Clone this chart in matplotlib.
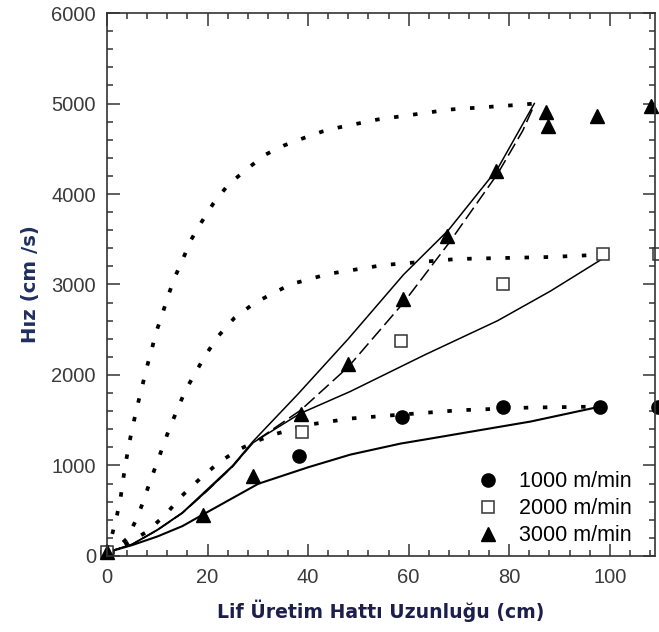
import matplotlib
matplotlib.use("Agg")
import matplotlib.pyplot as plt
from matplotlib.ticker import MultipleLocator

# measured points (Lif uretim hatti uzunlugu, cm -> hiz, cm/s)
x_1000 = [0, 38.2, 58.6, 78.7, 98.1, 109.7]
v_1000 = [40, 1110, 1540, 1650, 1650, 1650]
x_2000 = [0, 38.8, 58.4, 78.7, 98.6, 109.8]
v_2000 = [40, 1375, 2372, 3004, 3337, 3337]
x_3000 = [0, 19.0, 29.1, 38.6, 48.0, 58.8, 67.7, 77.3, 87.4, 87.7, 97.4, 108.2]
v_3000 = [40, 455, 887, 1574, 2117, 2838, 3537, 4257, 4905, 4756, 4867, 4978]

# model curves - dotted
x_dot1 = [0, 1, 2, 2.7, 3.2, 3.8, 4.4, 5.2, 6, 6.9, 7.8, 8.8, 9.7, 11, 12.2, 13.5,
          15.1, 16.7, 18.7, 21.1, 24.1, 27.9, 31.5, 35.1, 38.8, 42.8, 46, 53.8,
          68.3, 82.9, 85]
v_dot1 = [40, 233, 455, 643, 843, 1053, 1242, 1452, 1652, 1851, 2062, 2262, 2461,
          2672, 2882, 3082, 3282, 3492, 3681, 3891, 4102, 4279, 4435, 4534, 4612,
          4690, 4734, 4823, 4934, 4989, 5000]
x_dot2 = [0, 2, 3.9, 5.8, 7.2, 8.4, 9.8, 11.1, 12.4, 14, 15.5, 17.5, 19.7, 22.1,
          25.3, 29.3, 33.1, 36.6, 40.4, 43.8, 55, 69.7, 88.2, 98.6]
v_dot2 = [40, 90, 188, 399, 599, 798, 1009, 1208, 1408, 1619, 1818, 2018, 2228,
          2428, 2628, 2794, 2905, 3004, 3060, 3115, 3215, 3282, 3304, 3330]
x_dot3 = [0, 4, 7.9, 11.6, 14.9, 18.5, 22.2, 25.8, 29.5, 33.1, 40, 48.4, 58, 70,
          84, 97, 100.6]
v_dot3 = [40, 140, 266, 455, 665, 854, 1031, 1164, 1264, 1341, 1450, 1519, 1560,
          1610, 1640, 1650, 1655]

# model curves - solid / dashed
x_sol3 = [0, 5, 10, 15, 20, 25, 29, 38, 48, 59, 67.9, 77.7, 85]
v_sol3 = [40, 130, 290, 480, 740, 1000, 1264, 1790, 2400, 3110, 3600, 4280, 5000]
x_dash3 = [0, 5, 10, 15, 20, 25, 29, 38.5, 48, 59, 67.9, 77.7, 82.7, 84.8]
v_dash3 = [40, 128, 285, 475, 725, 990, 1250, 1610, 2090, 2800, 3450, 4224, 4700, 4960]
x_sol2 = [0, 5, 10, 15, 20, 25, 29, 38.4, 48.4, 63.3, 77.7, 88.2, 99.6]
v_sol2 = [40, 128, 285, 475, 725, 990, 1250, 1574, 1818, 2225, 2600, 2927, 3320]
x_sol1 = [0, 5, 10, 15, 19, 30.1, 40, 48.4, 58.4, 64.3, 84.3, 98.2]
v_sol1 = [40, 120, 215, 330, 455, 798, 980, 1120, 1242, 1297, 1486, 1652]

plt.rcParams['font.family'] = ['Liberation Sans', 'DejaVu Sans']

fig = plt.figure(figsize=(6.59, 6.32), dpi=100)
ax = fig.add_axes([0.1624, 0.1203, 0.8315, 0.8591])

dot = dict(color='black', lw=2.7, dashes=(1.2, 3.9))
for xs, vs in [(x_dot1, v_dot1), (x_dot2, v_dot2), (x_dot3, v_dot3)]:
    ax.plot(xs, vs, **dot)

ax.plot(x_sol3, v_sol3, color='black', lw=1.1)
ax.plot(x_dash3, v_dash3, color='black', lw=1.1, dashes=(9, 3.5))
ax.plot(x_sol2, v_sol2, color='black', lw=1.1)
ax.plot(x_sol1, v_sol1, color='black', lw=1.5)

ax.plot(x_1000, v_1000, 'o', color='black', ms=9.5, clip_on=False,
        label='1000 m/min')
ax.plot(x_2000, v_2000, 's', mfc='white', mec='#333333', mew=1.1, ms=9,
        clip_on=False, label='2000 m/min')
ax.plot(x_3000, v_3000, '^', color='black', ms=9.5, clip_on=False,
        label='3000 m/min')

ax.set_xlim(0, 109)
ax.set_ylim(0, 6000)
ax.xaxis.set_major_locator(MultipleLocator(20))
ax.xaxis.set_minor_locator(MultipleLocator(4))
ax.yaxis.set_major_locator(MultipleLocator(1000))
ax.yaxis.set_minor_locator(MultipleLocator(200))
ax.tick_params(which='both', direction='in', top=True, right=True,
               color='#333333', width=1.1)
ax.tick_params(which='major', length=9, labelsize=14.5, labelcolor='#3a3a3a')
ax.tick_params(which='minor', length=4.5)
ax.tick_params(axis='y', pad=8)
ax.tick_params(axis='x', pad=9)
for s in ax.spines.values():
    s.set_color('#333333')
    s.set_linewidth(1.2)

ax.set_xlabel('Lif Üretim Hattı Uzunluğu (cm)', family='DejaVu Sans',
              weight='bold', fontsize=13.6, color='#1c1f4a', labelpad=9)
ax.set_ylabel('Hız (cm /s)', family='DejaVu Sans', weight='bold',
              fontsize=14.2, color='#1f3060', labelpad=8)

ax.legend(loc='lower right', bbox_to_anchor=(0.985, -0.01), frameon=False,
          fontsize=15.5, handletextpad=0.85, labelspacing=0.28,
          handlelength=1.2, borderaxespad=0.3)

fig.savefig('out.png', dpi=100)
